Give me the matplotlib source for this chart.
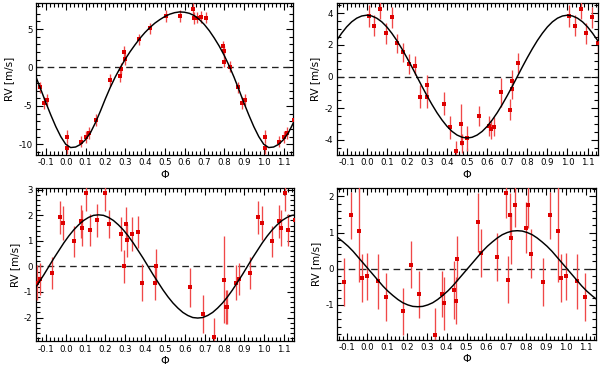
import numpy as np
import matplotlib
matplotlib.use("Agg")
import matplotlib.pyplot as plt
from matplotlib.ticker import MultipleLocator, FormatStrFormatter

plt.rcParams["font.family"] = ["DejaVu Sans"]
plt.rcParams["axes.unicode_minus"] = False

curve_grid = [0.000, 0.025, 0.050, 0.075, 0.100, 0.125, 0.150, 0.175, 0.200, 0.225,
              0.250, 0.275, 0.300, 0.325, 0.350, 0.375, 0.400, 0.425, 0.450, 0.475,
              0.500, 0.525, 0.550, 0.575, 0.600, 0.625, 0.650, 0.675, 0.700, 0.725,
              0.750, 0.775, 0.800, 0.825, 0.850, 0.875, 0.900, 0.925, 0.950, 0.975]

# ---- panel 1 (top left) ----
p1_phase = [0.005, 0.008, 0.075, 0.104, 0.116, 0.154, 0.225, 0.275, 0.280, 0.296,
            0.302, 0.368, 0.425, 0.509, 0.578, 0.642, 0.650, 0.665, 0.681, 0.707,
            0.796, 0.802, 0.798, 0.828, 0.868, 0.888, 0.906]
p1_rv = [-10.55, -9.0, -9.65, -9.05, -8.55, -6.85, -1.65, -1.1, -0.15, 2.0,
         1.1, 3.65, 5.1, 6.7, 6.7, 7.6, 6.45, 6.5, 6.55, 6.5,
         2.75, 2.1, 0.75, 0.1, -2.6, -4.65, -4.2]
p1_err = [0.75, 0.8, 0.7, 0.75, 0.75, 0.8, 0.8, 0.8, 0.75, 0.8,
          0.8, 0.75, 0.75, 0.75, 0.75, 0.75, 0.75, 0.75, 0.75, 0.75,
          0.75, 0.75, 0.75, 0.75, 0.75, 0.8, 0.8]
p1_curve_offset = 0.0
p1_curve_rv = [-10.0, -10.43, -10.36, -10.02, -9.4, -8.5, -7.2, -5.7, -4.1, -2.6,
               -1.25, -0.05, 1.05, 2.05, 2.95, 3.8, 4.55, 5.2, 5.77, 6.23,
               6.63, 6.94, 7.14, 7.24, 7.2, 7.05, 6.75, 6.25, 5.6, 4.8,
               3.85, 2.8, 1.6, 0.25, -1.25, -2.9, -4.6, -6.2, -7.7, -9.0]

# ---- panel 2 (top right) ----
p2_phase = [0.010, 0.037, 0.068, 0.094, 0.124, 0.153, 0.182, 0.211, 0.240, 0.265,
            0.298, 0.301, 0.386, 0.414, 0.444, 0.470, 0.475, 0.500, 0.559, 0.610,
            0.617, 0.633, 0.668, 0.716, 0.725, 0.725, 0.754]
p2_rv = [3.84, 3.22, 4.26, 2.74, 3.75, 2.12, 1.53, 0.8, 0.7, -1.26,
         -1.26, -0.52, -1.72, -3.2, -4.67, -3.0, -4.2, -3.89, -2.48, -3.1,
         -3.33, -3.16, -1.0, -2.08, -0.25, -0.8, 0.86]
p2_err = [0.68, 0.65, 0.6, 0.65, 0.65, 0.6, 0.62, 0.65, 0.6, 0.72,
          0.7, 0.65, 0.72, 0.72, 0.6, 1.3, 0.6, 0.8, 0.65, 0.62,
          0.6, 0.6, 0.9, 0.65, 0.65, 0.6, 0.65]
p2_curve_offset = 0.0
p2_curve_rv = [3.88, 3.83, 3.69, 3.46, 3.14, 2.74, 2.28, 1.76, 1.20, 0.61,
               0.0, -0.61, -1.20, -1.76, -2.28, -2.74, -3.14, -3.46, -3.69, -3.83,
               -3.88, -3.83, -3.69, -3.46, -3.14, -2.74, -2.28, -1.76, -1.20, -0.61,
               0.0, 0.61, 1.20, 1.76, 2.28, 2.74, 3.14, 3.46, 3.69, 3.83]

# ---- panel 3 (bottom left) ----
p3_phase = [0.041, 0.075, 0.082, 0.103, 0.120, 0.157, 0.197, 0.218, 0.276, 0.295,
            0.304, 0.307, 0.332, 0.362, 0.385, 0.451, 0.457, 0.625, 0.689, 0.748,
            0.797, 0.805, 0.813, 0.856, 0.872, 0.930, 0.971, 0.988]
p3_rv = [0.98, 1.76, 1.51, 2.86, 1.42, 1.8, 2.87, 1.66, 1.27, 0.0,
         1.67, 1.02, 1.27, 1.35, -0.64, -0.65, 0.0, -0.82, -1.85, -2.75,
         -0.52, -1.59, -1.59, -0.63, -0.48, -0.26, 1.93, 1.7]
p3_err = [0.62, 0.65, 0.7, 0.7, 0.62, 0.65, 0.7, 0.55, 0.65, 0.65,
          0.65, 0.65, 0.65, 0.62, 0.72, 0.68, 0.7, 0.75, 0.75, 0.72,
          1.7, 0.68, 0.68, 0.68, 0.62, 0.63, 0.65, 0.65]
p3_curve_offset = 0.015
p3_curve_rv = [1.19, 1.43, 1.63, 1.80, 1.92, 2.00, 2.02, 2.00, 1.92, 1.80,
               1.63, 1.43, 1.19, 0.92, 0.62, 0.32, 0.0, -0.32, -0.62, -0.92,
               -1.19, -1.43, -1.63, -1.80, -1.92, -2.00, -2.02, -2.00, -1.92, -1.80,
               -1.63, -1.43, -1.19, -0.92, -0.62, -0.32, 0.0, 0.32, 0.62, 0.92]

# ---- panel 4 (bottom right) ----
p4_phase = [0.000, 0.054, 0.096, 0.182, 0.220, 0.262, 0.343, 0.376, 0.387, 0.438,
            0.447, 0.450, 0.559, 0.572, 0.654, 0.699, 0.707, 0.718, 0.722, 0.743,
            0.797, 0.807, 0.826, 0.886, 0.920, 0.960, 0.973]
p4_rv = [-0.21, -0.35, -0.78, -1.17, 0.11, -0.71, -1.84, -0.69, -0.96, -0.58,
         -0.88, 0.27, 1.28, 0.43, 0.32, 2.1, -0.3, 1.48, 0.84, 1.77,
         1.13, 1.75, 0.41, -0.36, 1.47, 1.04, -0.25]
p4_err = [0.65, 0.75, 0.66, 0.65, 0.65, 0.64, 0.76, 0.64, 0.74, 0.8,
          0.65, 0.62, 0.82, 0.66, 0.66, 0.7, 0.66, 0.6, 0.7, 0.62,
          0.7, 0.62, 0.68, 0.66, 0.65, 1.4, 0.66]
p4_curve_offset = 0.005
p4_curve_rv = [0.0, -0.16, -0.32, -0.48, -0.62, -0.74, -0.85, -0.94, -1.00, -1.04,
               -1.05, -1.04, -1.00, -0.94, -0.85, -0.74, -0.62, -0.48, -0.32, -0.16,
               0.0, 0.16, 0.32, 0.48, 0.62, 0.74, 0.85, 0.94, 1.00, 1.04,
               1.05, 1.04, 1.00, 0.94, 0.85, 0.74, 0.62, 0.48, 0.32, 0.16]

x_ticklabels = ["-0.1", "0.0", "0.1", "0.2", "0.3", "0.4", "0.5", "0.6",
                "0.7", "0.8", "0.9", "1.0", "1.1"]


def draw_panel(ax, phase, rv, err, coffset, crv, ylim, ymajor, yminor):
    phase = np.array(phase)
    cphase = np.array(curve_grid) + coffset
    # data repeated one cycle either side so the -0.15..1.15 window is filled
    for shift in (-1, 0, 1):
        ax.errorbar(phase + shift, rv, yerr=err, fmt="s", ms=2.3,
                    color="#dd0000", ecolor="#f04848", elinewidth=0.95,
                    capsize=0, mew=0, zorder=3)
    cx = np.concatenate([cphase - 1, cphase, cphase + 1])
    cy = np.tile(crv, 3)
    ax.plot(cx, cy, color="black", lw=1.05, zorder=4)
    ax.axhline(0, color="#222222", lw=0.95, ls=(0, (5, 3.5)), zorder=2)

    ax.set_xlim(-0.15, 1.15)
    ax.set_ylim(*ylim)
    ax.set_xticks(np.arange(-0.1, 1.11, 0.1))
    ax.set_xticklabels(x_ticklabels)
    ax.xaxis.set_minor_locator(MultipleLocator(0.02))
    ax.yaxis.set_major_locator(MultipleLocator(ymajor))
    ax.yaxis.set_minor_locator(MultipleLocator(yminor))
    ax.yaxis.set_major_formatter(FormatStrFormatter("%d"))
    ax.tick_params(which="both", direction="in", top=True, right=True,
                   labelsize=6.2, width=0.8, pad=2.5)
    ax.tick_params(which="major", length=5)
    ax.tick_params(which="minor", length=2.6)
    for s in ax.spines.values():
        s.set_linewidth(0.9)
    ax.set_xlabel("Φ", fontsize=8, labelpad=1.5)
    ax.set_ylabel("RV [m/s]", fontsize=7.5, labelpad=3)


fig = plt.figure(figsize=(6, 3.66), dpi=100)
ax1 = fig.add_axes([0.060, 0.5765, 0.429, 0.4153])
ax2 = fig.add_axes([0.561, 0.5765, 0.435, 0.4153])
ax3 = fig.add_axes([0.060, 0.0675, 0.430, 0.4188])
ax4 = fig.add_axes([0.562, 0.0719, 0.431, 0.4145])

draw_panel(ax1, p1_phase, p1_rv, p1_err, p1_curve_offset, p1_curve_rv, (-11.4, 8.4), 5, 1)
draw_panel(ax2, p2_phase, p2_rv, p2_err, p2_curve_offset, p2_curve_rv, (-4.95, 4.65), 2, 0.5)
draw_panel(ax3, p3_phase, p3_rv, p3_err, p3_curve_offset, p3_curve_rv, (-2.93, 3.07), 1, 0.2)
draw_panel(ax4, p4_phase, p4_rv, p4_err, p4_curve_offset, p4_curve_rv, (-1.96, 2.23), 1, 0.2)

fig.savefig("out.png", dpi=100)
